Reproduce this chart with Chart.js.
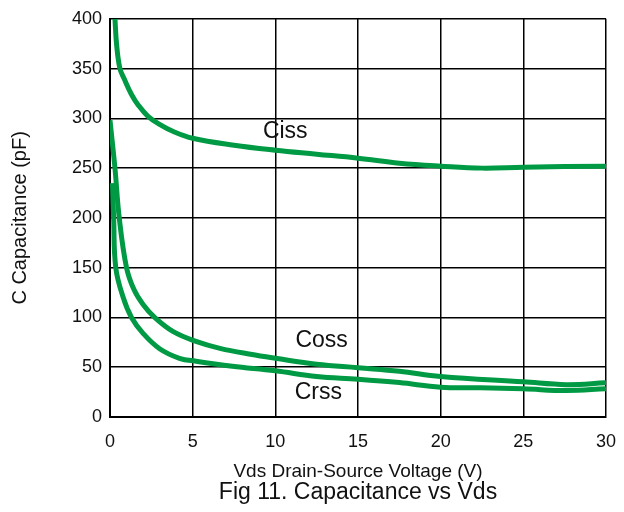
<!DOCTYPE html>
<html>
<head>
<meta charset="utf-8">
<script src="https://cdn.jsdelivr.net/npm/chart.js@4/dist/chart.umd.min.js"></script>
<style>
  html, body { margin: 0; padding: 0; background: #fff; }
  canvas { display: block; }
</style>
</head>
<body>
<canvas id="capChart" width="624" height="512"></canvas>
<script>
// 数据 (V, pF)
const cissV = [0.3, 0.4, 0.6, 0.85, 1.3, 1.7, 2.3, 3.0, 3.8, 5, 7.5, 10, 12.5, 15, 17.5, 20, 22.5, 25, 30];
const cissC = [400, 374, 350, 340, 324, 313.5, 302, 294, 287, 280, 273, 268, 264, 260, 255, 252, 250, 251, 252];

const cossV = [0, 0.3, 0.56, 1.0, 1.45, 2.0, 2.7, 3.8, 5.2, 6.65, 8.5, 10, 12.5, 15, 17.5, 20, 25, 27.6, 30];
const cossC = [298, 250, 200, 150, 128, 113, 100, 86, 76, 69, 63, 59, 53, 49.5, 46, 40.6, 35.3, 32.5, 34.3];

const crssV = [0.15, 0.22, 0.35, 0.8, 1.3, 2.0, 3.0, 4.2, 5.2, 7.4, 10, 12.5, 15, 17.5, 20, 22.4, 25, 27.6, 30];
const crssC = [235, 200, 150, 120, 100, 84, 68.6, 59, 56, 51, 46.4, 40.6, 38, 34.6, 30, 29.4, 28.3, 26.6, 28.3];

const xTicks = [0, 5, 10, 15, 20, 25, 30];
const yTicks = [0, 50, 100, 150, 200, 250, 300, 350, 400];

// 曲线标注 (数据坐标)
const curveLabels = [
    { text: 'Ciss', v: 10.6, c: 287 },
    { text: 'Coss', v: 12.8, c: 77 },
    { text: 'Crss', v: 12.6, c: 24 }
];

const GREEN = 'rgb(0, 154, 68)';
const FONT = '"Liberation Sans", Arial, sans-serif';

function toPoints(xs, ys) {
    return xs.map((x, i) => ({ x: x, y: ys[i] }));
}

function lineSet(label, xs, ys) {
    return {
        label: label,
        data: toPoints(xs, ys),
        borderColor: GREEN,
        borderWidth: 5,
        pointRadius: 0,
        fill: false,
        tension: 0.4
    };
}

// 标注与图题
const textPlugin = {
    id: 'textPlugin',
    afterDraw(chart) {
        const ctx = chart.ctx;
        const xs = chart.scales.x;
        const ys = chart.scales.y;
        ctx.save();
        ctx.fillStyle = '#111';
        ctx.textAlign = 'center';
        ctx.textBaseline = 'middle';
        ctx.font = '23px ' + FONT;
        curveLabels.forEach(l => {
            ctx.fillText(l.text, xs.getPixelForValue(l.v), ys.getPixelForValue(l.c));
        });
        const area = chart.chartArea;
        ctx.fillText('Fig 11. Capacitance vs Vds', (area.left + area.right) / 2, chart.height - 19);
        ctx.restore();
    }
};

function initChart() {
    const ctx = document.getElementById('capChart').getContext('2d');
    new Chart(ctx, {
        type: 'line',
        data: {
            datasets: [
                lineSet('Ciss', cissV, cissC),
                lineSet('Coss', cossV, cossC),
                lineSet('Crss', crssV, crssC)
            ]
        },
        options: {
            responsive: false,
            animation: false,
            layout: { padding: { top: 13, right: 18, left: 0, bottom: 0 } },
            plugins: {
                legend: { display: false },
                tooltip: { enabled: false }
            },
            scales: {
                x: {
                    type: 'linear',
                    min: xTicks[0],
                    max: xTicks[xTicks.length - 1],
                    afterFit: s => { s.height = 95; s.paddingLeft = 0; s.paddingRight = 0; },
                    afterBuildTicks: s => { s.ticks = xTicks.map(v => ({ value: v })); },
                    grid: { color: '#000', lineWidth: 1.5, drawTicks: false },
                    border: { color: '#000', width: 2 },
                    ticks: { color: '#111', font: { family: FONT, size: 18 }, padding: 14, maxRotation: 0 },
                    title: {
                        display: true,
                        text: 'Vds Drain-Source Voltage (V)',
                        color: '#111',
                        font: { family: FONT, size: 19 },
                        padding: { bottom: 29 }
                    }
                },
                y: {
                    min: yTicks[0],
                    max: yTicks[yTicks.length - 1],
                    afterFit: s => { s.width = 110; },
                    afterBuildTicks: s => { s.ticks = yTicks.map(v => ({ value: v })); },
                    grid: { color: '#000', lineWidth: 1.5, drawTicks: false },
                    border: { color: '#000', width: 2 },
                    ticks: { color: '#111', font: { family: FONT, size: 18 }, padding: 8 },
                    title: {
                        display: true,
                        text: 'C Capacitance (pF)',
                        color: '#111',
                        font: { family: FONT, size: 20 },
                        padding: { top: 8 }
                    }
                }
            }
        },
        plugins: [textPlugin]
    });
}

document.addEventListener('DOMContentLoaded', initChart);
</script>
</body>
</html>
